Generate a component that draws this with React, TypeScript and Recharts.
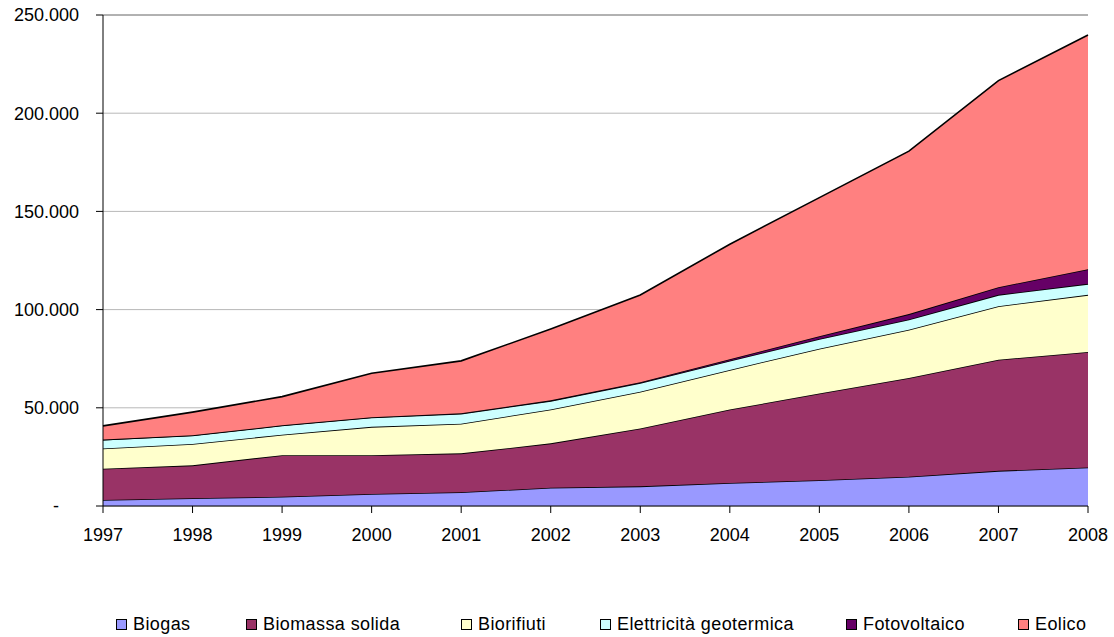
import {
  Area,
  AreaChart,
  CartesianGrid,
  ReferenceLine,
  XAxis,
  YAxis,
} from "recharts";

const years = ["1997", "1998", "1999", "2000", "2001", "2002", "2003", "2004", "2005", "2006", "2007", "2008"];
const biogas = [3100, 4000, 4700, 6100, 7000, 9300, 10000, 11700, 13100, 14900, 17900, 19600];
const biomassaSolida = [15900, 16700, 21200, 19800, 19800, 22600, 29500, 37400, 44200, 50300, 56600, 58800];
const biorifiuti = [10300, 10900, 10400, 14400, 15100, 17200, 18700, 20200, 22800, 24600, 27200, 29100];
const geotermica = [4400, 4300, 4700, 4800, 5100, 4400, 4400, 4700, 4900, 5200, 5800, 5600];
const fotovoltaico = [100, 100, 100, 100, 200, 300, 400, 700, 1400, 2700, 3900, 7400];
const eolico = [7000, 11800, 14600, 22400, 26700, 36300, 44400, 58600, 70600, 83000, 105200, 119300];
const yTicks = [0, 50000, 100000, 150000, 200000, 250000];

const series = [
  { key: "biogas", name: "Biogas", values: biogas, color: "#9999ff" },
  { key: "biomassa", name: "Biomassa solida", values: biomassaSolida, color: "#993366" },
  { key: "biorifiuti", name: "Biorifiuti", values: biorifiuti, color: "#ffffcc" },
  { key: "geotermica", name: "Elettricità geotermica", values: geotermica, color: "#ccffff" },
  { key: "fotovoltaico", name: "Fotovoltaico", values: fotovoltaico, color: "#660066" },
  { key: "eolico", name: "Eolico", values: eolico, color: "#ff8080" },
];

// legend item left edges
const legendLeft = [116, 246, 461, 600, 846, 1018];

const data = years.map((year, i) => {
  const row: Record<string, string | number> = { year };
  series.forEach((s) => (row[s.key] = s.values[i]));
  return row;
});

// excel accounting style: zero shows as a dash, padded from the right
const fmt = (v: number) =>
  v === 0 ? "-\u00a0\u00a0\u00a0\u00a0" : String(v).replace(/\B(?=(\d{3})+(?!\d))/g, ".");

const font = "'Liberation Sans', Arial, sans-serif";

export default function App() {
  return (
    <div style={{ position: "absolute", left: 0, top: 0, width: 1114, height: 637, background: "#fff", fontFamily: font }}>
      <AreaChart
        width={1114}
        height={637}
        data={data}
        margin={{ top: 15, right: 26, left: 0, bottom: 91 }}
      >
        <CartesianGrid vertical={false} stroke="#b8b8b8" />
        <XAxis
          dataKey="year"
          stroke="#000"
          tick={{ fill: "#000", fontSize: 18, fontFamily: font }}
          tickSize={7}
          tickMargin={15}
          height={40}
          interval={0}
        />
        <YAxis
          domain={[0, 250000]}
          ticks={yTicks}
          tickFormatter={fmt}
          stroke="#000"
          tick={{ fill: "#000", fontSize: 18, fontFamily: font, style: { whiteSpace: "pre" } }}
          tickSize={7}
          tickMargin={17}
          width={103}
          interval={0}
        />
        <YAxis
          yAxisId="frame"
          orientation="right"
          width={0}
          tick={false}
          tickLine={false}
          stroke="#888"
        />
        {series.map((s) => (
          <Area
            key={s.key}
            dataKey={s.key}
            name={s.name}
            stackId="a"
            type="linear"
            fill={s.color}
            fillOpacity={1}
            stroke="#000"
            strokeWidth={1.6}
            dot={false}
            activeDot={false}
            isAnimationActive={false}
          />
        ))}
        <ReferenceLine y={250000} stroke="#888" />
      </AreaChart>
      {series.map((s, i) => (
        <div
          key={s.key}
          style={{
            position: "absolute",
            left: legendLeft[i],
            top: 613,
            height: 22,
            lineHeight: "22px",
            display: "flex",
            alignItems: "center",
            fontSize: 18,
            letterSpacing: 0.4,
            color: "#000",
            whiteSpace: "nowrap",
          }}
        >
          <span
            style={{
              display: "inline-block",
              boxSizing: "border-box",
              width: 11,
              height: 11,
              background: s.color,
              border: "1px solid #000",
              marginRight: 6,
            }}
          />
          {s.name}
        </div>
      ))}
    </div>
  );
}
